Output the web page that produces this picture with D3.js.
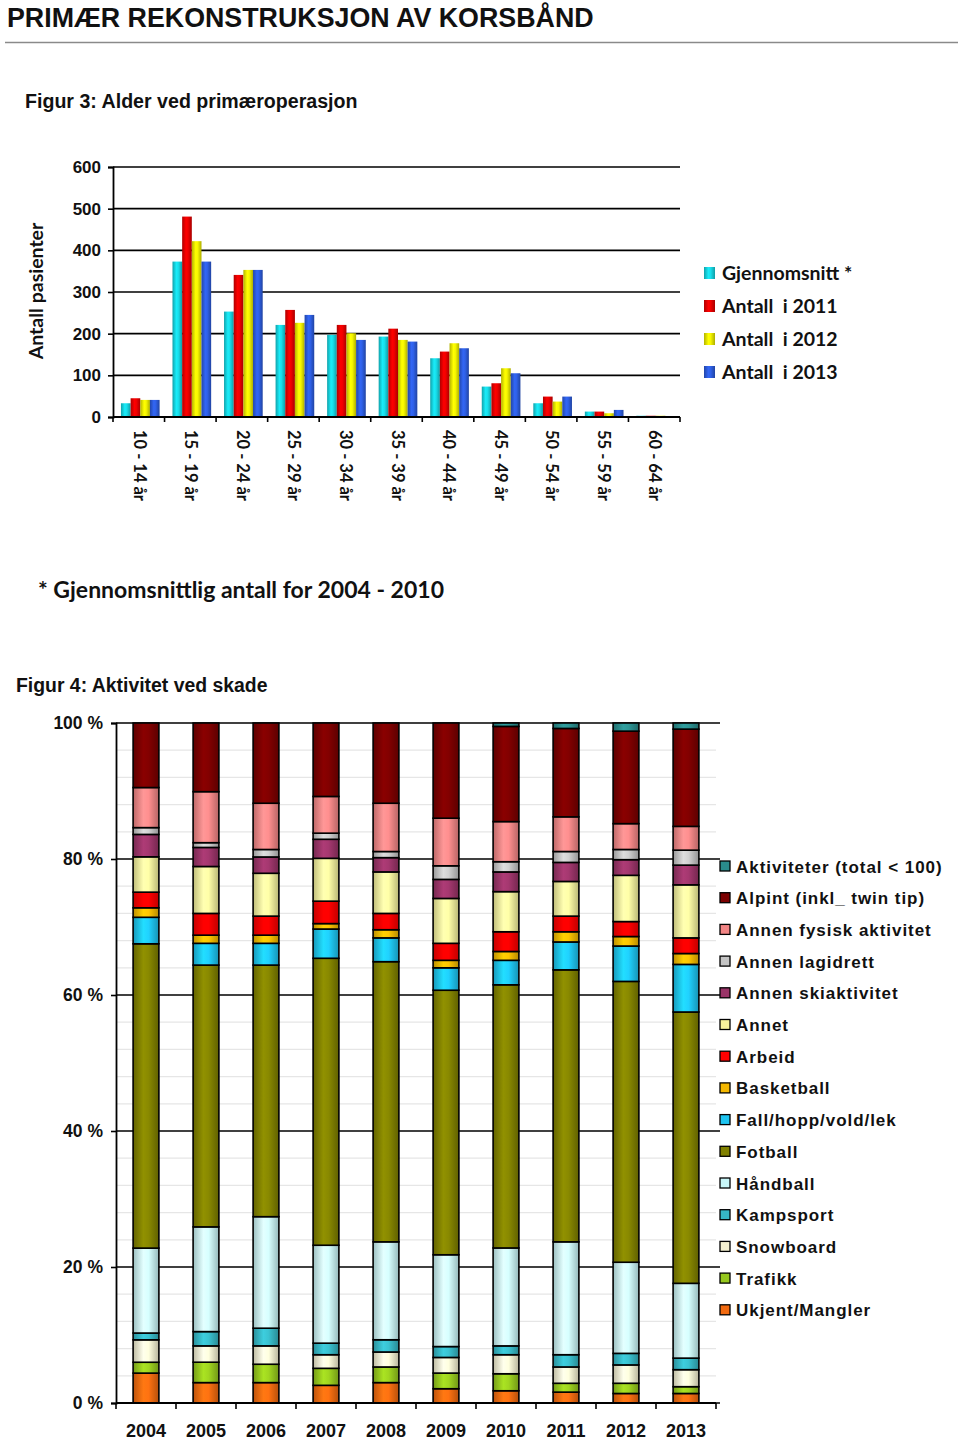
<!DOCTYPE html>
<html>
<head>
<meta charset="utf-8">
<script src="https://cdn.jsdelivr.net/npm/d3@7"></script>
<style>
  html, body { margin: 0; padding: 0; background: #fff; }
  svg { display: block; }
  .arial { font-family: "Liberation Sans", Arial, sans-serif; font-weight: bold; }
  .cal { font-family: Lato, "Open Sans", sans-serif; font-weight: bold; }
  .pre { white-space: pre; }
</style>
</head>
<body>
<svg id="chart" width="960" height="1440"></svg>
<script>
// ---------- Figure 3 data ----------
const ageGroups = ["10 - 14 år","15 - 19 år","20 - 24 år","25 - 29 år","30 - 34 år","35 - 39 år","40 - 44 år","45 - 49 år","50 - 54 år","55 - 59 år","60 - 64 år"];
const seriesNames3 = ["Gjennomsnitt *","Antall  i 2011","Antall  i 2012","Antall  i 2013"];
const avg2004_2010 = [33,373,253,221,197,193,141,73,33,13,3];
const count2011 = [45,481,341,257,221,212,157,81,49,13,3];
const count2012 = [41,422,353,226,201,185,177,117,37,9,3];
const count2013 = [41,373,353,245,185,181,165,105,49,17,2];
const yTicks3 = [0,100,200,300,400,500,600];
const colors3 = ["#16d0dc","#e00000","#e6e600","#2c5ad8"];

// ---------- Figure 4 data ----------
const years = ["2004","2005","2006","2007","2008","2009","2010","2011","2012","2013"];
const activities = ["Aktiviteter (total < 100)","Alpint (inkl_ twin tip)","Annen fysisk aktivitet","Annen lagidrett","Annen skiaktivitet","Annet","Arbeid","Basketball","Fall/hopp/vold/lek","Fotball","Håndball","Kampsport","Snowboard","Trafikk","Ukjent/Mangler"];
const aktiviteter = [0,0,0,0,0,0,0.5,0.8,1.2,0.9];
const alpint      = [9.5,10.1,11.8,10.8,11.8,14.0,14.0,13.0,13.6,14.3];
const annenFysisk = [5.9,7.5,6.8,5.4,7.1,7.0,5.9,5.1,3.8,3.5];
const annenLag    = [1.0,0.7,1.1,0.9,0.9,2.0,1.5,1.6,1.5,2.2];
const annenSki    = [3.3,2.8,2.4,2.8,2.1,2.8,2.9,2.8,2.3,2.9];
const annet       = [5.2,6.9,6.3,6.3,6.1,6.6,5.9,5.1,6.8,7.8];
const arbeid      = [2.3,3.2,2.8,3.3,2.4,2.5,2.9,2.3,2.2,2.3];
const basketball  = [1.4,1.2,1.2,0.8,1.2,1.1,1.3,1.5,1.4,1.6];
const fall        = [3.9,3.2,3.2,4.3,3.5,3.3,3.6,4.1,5.2,7.0];
const fotball     = [44.8,38.5,37.0,42.2,41.2,38.9,38.7,40.0,41.3,39.9];
const handball    = [12.5,15.4,16.4,14.4,14.4,13.5,14.4,16.6,13.4,11.0];
const kampsport   = [1.0,2.1,2.6,1.7,1.8,1.6,1.3,1.8,1.7,1.7];
const snowboard   = [3.3,2.4,2.7,2.0,2.2,2.3,2.8,2.4,2.7,2.5];
const trafikk     = [1.6,3.0,2.7,2.5,2.3,2.3,2.5,1.3,1.5,1.0];
const ukjent      = [4.4,3.0,3.0,2.6,3.0,2.1,1.8,1.6,1.4,1.4];
const colors4 = ["#2a8c8c","#7a0000","#f28585","#c4c4c4","#9a3468","#f6f29c","#ff0000","#f4b800","#1ec4f0","#808000","#c8f6f8","#36b6c4","#f4f0d0","#96c81e","#f26a10"];
const yTicks4 = [0,0.2,0.4,0.6,0.8,1.0];

const svg = d3.select("#chart");
const defs = svg.append("defs");

function makeGrad(id, base) {
  const c = d3.color(base);
  const g = defs.append("linearGradient").attr("id", id)
    .attr("x1", "0").attr("x2", "1").attr("y1", "0").attr("y2", "0");
  g.append("stop").attr("offset", "0%").attr("stop-color", c.darker(0.7));
  g.append("stop").attr("offset", "40%").attr("stop-color", c.brighter(0.35));
  g.append("stop").attr("offset", "60%").attr("stop-color", c.brighter(0.2));
  g.append("stop").attr("offset", "100%").attr("stop-color", c.darker(0.8));
  return `url(#${id})`;
}

// ---------- Header ----------
svg.append("text").attr("class", "arial").attr("x", 7).attr("y", 27)
  .attr("font-size", 26.8).attr("fill", "#111").text("PRIMÆR REKONSTRUKSJON AV KORSBÅND");
svg.append("line").attr("x1", 5).attr("x2", 958).attr("y1", 42.5).attr("y2", 42.5)
  .attr("stroke", "#8a8a8a").attr("stroke-width", 1.5);
svg.append("text").attr("class", "arial").attr("x", 25).attr("y", 108)
  .attr("font-size", 19.6).attr("fill", "#111").text("Figur 3: Alder ved primæroperasjon");

// ---------- Figure 3 ----------
const p3 = { left: 113, right: 680, top: 167, bottom: 417 };
const x3 = d3.scaleBand().domain(ageGroups).range([p3.left, p3.right]).paddingInner(0.25).paddingOuter(0.125);
const x3inner = d3.scaleBand().domain(d3.range(4)).range([0, x3.bandwidth()]);
const y3 = d3.scaleLinear().domain([0, 600]).range([p3.bottom, p3.top]);

const g3 = svg.append("g");
g3.selectAll("line.grid").data(yTicks3.filter(d => d > 0)).join("line")
  .attr("x1", p3.left).attr("x2", p3.right)
  .attr("y1", d => y3(d)).attr("y2", d => y3(d))
  .attr("stroke", "#000").attr("stroke-width", 1.6);

const series3 = [avg2004_2010, count2011, count2012, count2013];
const grads3 = colors3.map((c, i) => makeGrad("g3_" + i, c));
series3.forEach((vals, si) => {
  g3.selectAll("rect.s" + si).data(vals).join("rect")
    .attr("x", (d, i) => x3(ageGroups[i]) + x3inner(si) + 1.5)
    .attr("width", x3inner.bandwidth())
    .attr("y", d => y3(d))
    .attr("height", d => y3(0) - y3(d))
    .attr("fill", grads3[si]);
});

// axes
const ax3 = g3.append("g").attr("transform", `translate(${p3.left},0)`)
  .call(d3.axisLeft(y3).tickValues(yTicks3).tickSize(5).tickPadding(7));
ax3.select(".domain").attr("stroke", "#000").attr("stroke-width", 1.8);
ax3.selectAll(".tick line").attr("stroke", "#000").attr("stroke-width", 1.6);
ax3.selectAll(".tick text").attr("class", "arial").attr("font-size", 17).attr("fill", "#111");

g3.append("line").attr("x1", p3.left).attr("x2", p3.right).attr("y1", p3.bottom).attr("y2", p3.bottom)
  .attr("stroke", "#000").attr("stroke-width", 2);
const bounds3 = ageGroups.map(g => x3(g) - x3.step() * x3.paddingInner() / 2).concat([p3.right]);
g3.selectAll("line.xt").data(bounds3).join("line")
  .attr("x1", d => d).attr("x2", d => d).attr("y1", p3.bottom).attr("y2", p3.bottom + 5)
  .attr("stroke", "#000").attr("stroke-width", 1.6);
g3.selectAll("text.xl").data(ageGroups).join("text")
  .attr("class", "cal").attr("font-size", 16.5).attr("fill", "#111")
  .attr("transform", d => `translate(${x3(d) + x3.bandwidth() / 2 - 5},430) rotate(90)`)
  .text(d => d);

svg.append("text").attr("class", "cal").attr("font-size", 19.5).attr("fill", "#111")
  .attr("text-anchor", "middle")
  .attr("transform", "translate(43,291) rotate(-90)").text("Antall pasienter");

// legend 3
const leg3 = svg.append("g");
seriesNames3.forEach((n, i) => {
  const yy = 273 + i * 33;
  leg3.append("rect").attr("x", 704).attr("y", yy - 6).attr("width", 11).attr("height", 12)
    .attr("fill", grads3[i]);
  leg3.append("text").attr("class", "cal pre").attr("x", 722).attr("y", yy + 7)
    .attr("font-size", 19.5).attr("fill", "#111").text(n);
});

svg.append("text").attr("class", "cal").attr("x", 38).attr("y", 598)
  .attr("font-size", 23).attr("fill", "#111").text("* Gjennomsnittlig antall for 2004 - 2010");

// ---------- Figure 4 ----------
svg.append("text").attr("class", "arial").attr("x", 16).attr("y", 692)
  .attr("font-size", 19.4).attr("fill", "#111").text("Figur 4: Aktivitet ved skade");

const p4 = { left: 116, right: 716, top: 723, bottom: 1403 };
const x4 = d3.scaleBand().domain(years).range([p4.left, p4.right]).paddingInner(0.57).paddingOuter(0.285);
const y4 = d3.scaleLinear().domain([0, 1]).range([p4.bottom, p4.top]);

const seriesArrays = [aktiviteter, alpint, annenFysisk, annenLag, annenSki, annet, arbeid, basketball, fall, fotball, handball, kampsport, snowboard, trafikk, ukjent];
const rows = years.map((yr, i) => {
  const r = { year: yr };
  activities.forEach((a, k) => r[a] = seriesArrays[k][i]);
  return r;
});
const stackKeys = activities.slice().reverse(); // bottom-up
const stacked = d3.stack().keys(stackKeys).offset(d3.stackOffsetExpand)(rows);

const g4 = svg.append("g");
// minor gridlines
const minor = d3.range(0, 1.0001, 0.04).filter(v => Math.abs(v * 5 - Math.round(v * 5)) > 1e-6);
g4.selectAll("line.minor").data(minor).join("line")
  .attr("x1", p4.left).attr("x2", p4.right).attr("y1", d => y4(d)).attr("y2", d => y4(d))
  .attr("stroke", "#e6e6e6").attr("stroke-width", 1.2);
g4.selectAll("line.major").data(yTicks4).join("line")
  .attr("x1", p4.left).attr("x2", p4.right + 4).attr("y1", d => y4(d)).attr("y2", d => y4(d))
  .attr("stroke", "#000").attr("stroke-width", 1.6);

const grads4 = {};
activities.forEach((a, k) => grads4[a] = makeGrad("g4_" + k, colors4[k]));

stacked.forEach(layer => {
  g4.selectAll(null).data(layer.filter(d => d[1] - d[0] > 1e-6)).join("rect")
    .attr("x", d => x4(d.data.year))
    .attr("width", x4.bandwidth())
    .attr("y", d => y4(d[1]))
    .attr("height", d => y4(d[0]) - y4(d[1]))
    .attr("fill", grads4[layer.key])
    .attr("stroke", "#000").attr("stroke-width", 1.6);
});

const ax4 = g4.append("g").attr("transform", `translate(${p4.left},0)`)
  .call(d3.axisLeft(y4).tickValues(yTicks4).tickFormat(d => Math.round(d * 100) + " %").tickSize(5).tickPadding(8));
ax4.select(".domain").attr("stroke", "#000").attr("stroke-width", 1.8);
ax4.selectAll(".tick line").attr("stroke", "#000").attr("stroke-width", 1.6);
ax4.selectAll(".tick text").attr("class", "arial").attr("font-size", 17.5).attr("fill", "#111");

const ax4b = g4.append("g").attr("transform", `translate(0,${p4.bottom})`)
  .call(d3.axisBottom(x4).tickSize(0).tickPadding(21));
ax4b.select(".domain").remove();
ax4b.selectAll(".tick text").attr("class", "arial").attr("font-size", 18).attr("fill", "#111");
const bounds4 = years.map(y => x4(y) - x4.step() * x4.paddingInner() / 2).concat([p4.right]);
g4.selectAll("line.xt").data(bounds4).join("line")
  .attr("x1", d => d).attr("x2", d => d).attr("y1", p4.bottom).attr("y2", p4.bottom + 6)
  .attr("stroke", "#000").attr("stroke-width", 1.6);
g4.append("line").attr("x1", p4.left).attr("x2", p4.right).attr("y1", p4.bottom).attr("y2", p4.bottom)
  .attr("stroke", "#000").attr("stroke-width", 1.8);

// legend 4
const leg4 = svg.append("g");
activities.forEach((a, k) => {
  const yy = 866 + k * 31.7;
  leg4.append("rect").attr("x", 720).attr("y", yy - 5).attr("width", 10).attr("height", 10)
    .attr("fill", colors4[k]).attr("stroke", "#000").attr("stroke-width", 1.3);
  leg4.append("text").attr("class", "arial").attr("x", 736).attr("y", yy + 6.5)
    .attr("font-size", 17).attr("letter-spacing", 0.95).attr("fill", "#111").text(a);
});
</script>
</body>
</html>
